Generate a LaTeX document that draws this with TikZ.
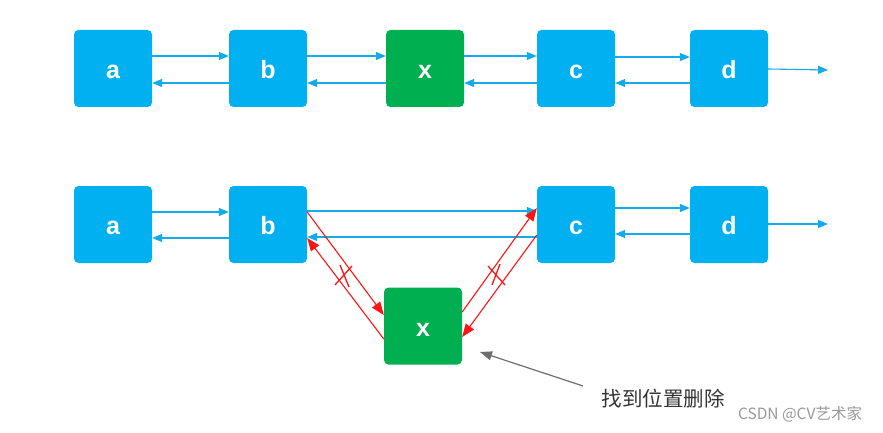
\documentclass[tikz,border=0pt]{standalone}
\usepackage{fontspec}
\setmainfont{Liberation Sans}
\newfontfamily\cjk{Noto Sans CJK SC}
\usetikzlibrary{arrows.meta}
\definecolor{boxblue}{RGB}{0,176,240}
\definecolor{boxgreen}{RGB}{0,176,80}
\definecolor{linkblue}{RGB}{20,170,235}
\definecolor{delred}{RGB}{255,20,20}
\definecolor{notegray}{RGB}{110,110,110}
\tikzset{
  listbox/.style={minimum width=78pt, minimum height=77pt, inner sep=0pt, rounded corners=4.5pt,
    fill=boxblue, text=white, font=\fontsize{25}{28}\selectfont\bfseries,
    text height=20pt, text depth=0pt},
  targetbox/.style={listbox, fill=boxgreen},
  link/.style={draw=linkblue, line width=1.1pt, -{Triangle[length=10pt,width=8pt]}},
  redlink/.style={draw=delred, line width=1.1pt, -{Triangle[length=13pt,width=10pt]}},
  crossmark/.style={draw=delred, line width=1.3pt},
  notearrow/.style={draw=notegray, line width=1.2pt, -{Triangle[length=12pt,width=9pt]}}
}
\begin{document}
\begin{tikzpicture}[x=1pt,y=-1pt]
\useasboundingbox (0,0) rectangle (883,433);
% top row
\node[listbox] (a) at (113,68.5) {a};
\node[listbox] (b) at (268,68.5) {b};
\node[targetbox] (x) at (425,68.5) {x};
\node[listbox] (c) at (576,68.5) {c};
\node[listbox] (d) at (729,68.5) {d};
\coordinate (dout) at (828,70);
\draw[link] (a.east|-0,56) -- (b.west|-0,56);
\draw[link] (b.west|-0,83) -- (a.east|-0,83);
\draw[link] (b.east|-0,56) -- (x.west|-0,56);
\draw[link] (x.west|-0,83) -- (b.east|-0,83);
\draw[link] (x.east|-0,56) -- (c.west|-0,56);
\draw[link] (c.west|-0,83) -- (x.east|-0,83);
\draw[link] (c.east|-0,57) -- (d.west|-0,57);
\draw[link] (d.west|-0,83) -- (c.east|-0,83);
\draw[link] (d.east|-0,69) -- (dout);
% bottom row
\node[listbox] (a2) at (113,224.5) {a};
\node[listbox] (b2) at (268,224.5) {b};
\node[listbox] (c2) at (576,224.5) {c};
\node[listbox] (d2) at (729,224.5) {d};
\node[targetbox] (x2) at (423,326) {x};
\coordinate (dout2) at (828,224);
\draw[link] (a2.east|-0,212) -- (b2.west|-0,212);
\draw[link] (b2.west|-0,238) -- (a2.east|-0,238);
\draw[link] (b2.east|-0,211) -- (c2.west|-0,211);
\draw[link] (c2.west|-0,237) -- (b2.east|-0,237);
\draw[link] (c2.east|-0,208) -- (d2.west|-0,208);
\draw[link] (d2.west|-0,234) -- (c2.east|-0,234);
\draw[link] (d2.east|-0,224) -- (dout2);
% red links
\draw[redlink] (b2.east|-0,212) -- (x2.west|-0,315);
\draw[redlink] (x2.west|-0,339) -- (b2.east|-0,238);
\draw[redlink] (x2.east|-0,312) -- (c2.west|-0,208);
\draw[redlink] (c2.west|-0,235) -- (x2.east|-0,337);
% crosses
\draw[crossmark] (335,285) -- (352,266);
\draw[crossmark] (340,265) -- (349,287);
\draw[crossmark] (488,266) -- (505,285);
\draw[crossmark] (500,264) -- (492,285);
% note
\node[font=\cjk\fontsize{20.5}{22}\selectfont, text=black!80, inner sep=0pt] (note) at (663,399) {找到位置删除};
\coordinate (notestart) at (583,386);
\coordinate (noteend) at (480,352);
\draw[notearrow] (notestart) -- (noteend);
\node[font=\cjk\fontsize{15.5}{17}\selectfont, text=black!40, inner sep=0pt] (mark) at (800,414) {CSDN @CV艺术家};
\end{tikzpicture}
\end{document}
